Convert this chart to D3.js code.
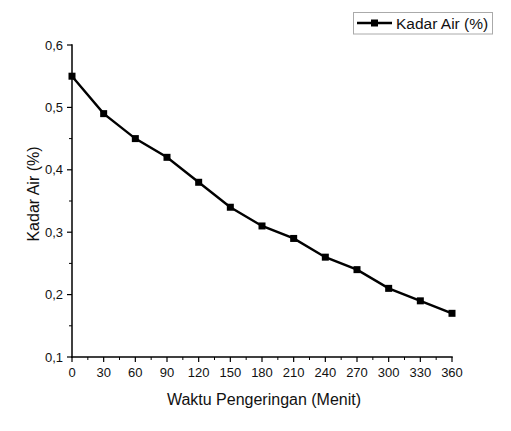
<!DOCTYPE html>
<html><head><meta charset="utf-8">
<script src="https://cdn.jsdelivr.net/npm/d3@7"></script>
<style>body{margin:0;background:#fff}svg{display:block;font-family:"Liberation Sans",Arial,sans-serif}</style>
</head><body><svg id="c" width="511" height="431"></svg>
<script>
const minutes = [0,30,60,90,120,150,180,210,240,270,300,330,360];
const kadarAir = [0.55,0.49,0.45,0.42,0.38,0.34,0.31,0.29,0.26,0.24,0.21,0.19,0.17];
const xTicks = [0,30,60,90,120,150,180,210,240,270,300,330,360];
const yTicks = [0.1,0.2,0.3,0.4,0.5,0.6];
const seriesName = "Kadar Air (%)";
const xTitle = "Waktu Pengeringan (Menit)";
const yTitle = "Kadar Air (%)";

const svg = d3.select("#c");
const x = d3.scaleLinear().domain([0,360]).range([72,452]);
const y = d3.scaleLinear().domain([0.1,0.6]).range([357,45]);
const fmt = d => d3.format(".1f")(d).replace(".", ",");

// x axis
const gx = svg.append("g").attr("transform","translate(0,357)");
gx.append("line").attr("x1",x(0)-0.75).attr("x2",x(360)+0.75).attr("stroke","#000").attr("stroke-width",1.5);
const xMinor = d3.range(15,360,30);
gx.selectAll(".mj").data(xTicks).join("line").attr("x1",d=>x(d)).attr("x2",d=>x(d)).attr("y1",0).attr("y2",5).attr("stroke","#000").attr("stroke-width",1.2);
gx.selectAll(".mn").data(xMinor).join("line").attr("x1",d=>x(d)).attr("x2",d=>x(d)).attr("y1",0).attr("y2",3).attr("stroke","#000").attr("stroke-width",1);
gx.selectAll("text").data(xTicks).join("text").attr("x",d=>x(d)).attr("y",20).attr("text-anchor","middle").attr("font-size",13).attr("fill","#111").text(d=>d);

// y axis
const gy = svg.append("g").attr("transform","translate(72,0)");
gy.append("line").attr("y1",y(0.1)+0.75).attr("y2",y(0.6)-0.75).attr("stroke","#000").attr("stroke-width",1.5);
const yMinor = [0.15,0.25,0.35,0.45,0.55];
gy.selectAll(".mj").data(yTicks).join("line").attr("x1",0).attr("x2",-5).attr("y1",d=>y(d)).attr("y2",d=>y(d)).attr("stroke","#000").attr("stroke-width",1.2);
gy.selectAll(".mn").data(yMinor).join("line").attr("x1",0).attr("x2",-3).attr("y1",d=>y(d)).attr("y2",d=>y(d)).attr("stroke","#000").attr("stroke-width",1);
gy.selectAll("text").data(yTicks).join("text").attr("x",-9).attr("y",d=>y(d)+4.5).attr("text-anchor","end").attr("font-size",13).attr("fill","#111").text(fmt);

// titles
svg.append("text").attr("x",(x(0)+x(360))/2+2).attr("y",405).attr("text-anchor","middle").attr("font-size",16).attr("fill","#111").text(xTitle);
svg.append("text").attr("transform","translate(38.5,194) rotate(-90)").attr("text-anchor","middle").attr("font-size",16).attr("fill","#111").text(yTitle);

// line
const line = d3.line().x((d,i)=>x(minutes[i])).y(d=>y(d));
svg.append("path").datum(kadarAir).attr("d",line).attr("fill","none").attr("stroke","#000").attr("stroke-width",2.4);
svg.selectAll(".pt").data(kadarAir).join("rect").attr("x",(d,i)=>x(minutes[i])-3.5).attr("y",d=>y(d)-3.5).attr("width",7).attr("height",7).attr("fill","#000");

// legend
const lg = svg.append("g");
lg.append("rect").attr("x",353.5).attr("y",12.5).attr("width",139).attr("height",21.5).attr("fill","#fff").attr("stroke","#aaa");
lg.append("line").attr("x1",357).attr("x2",392).attr("y1",23).attr("y2",23).attr("stroke","#000").attr("stroke-width",2.4);
lg.append("rect").attr("x",371).attr("y",19.5).attr("width",7).attr("height",7).attr("fill","#000");
lg.append("text").attr("x",396).attr("y",29).attr("font-size",15.5).attr("fill","#111").text(seriesName);
</script></body></html>
